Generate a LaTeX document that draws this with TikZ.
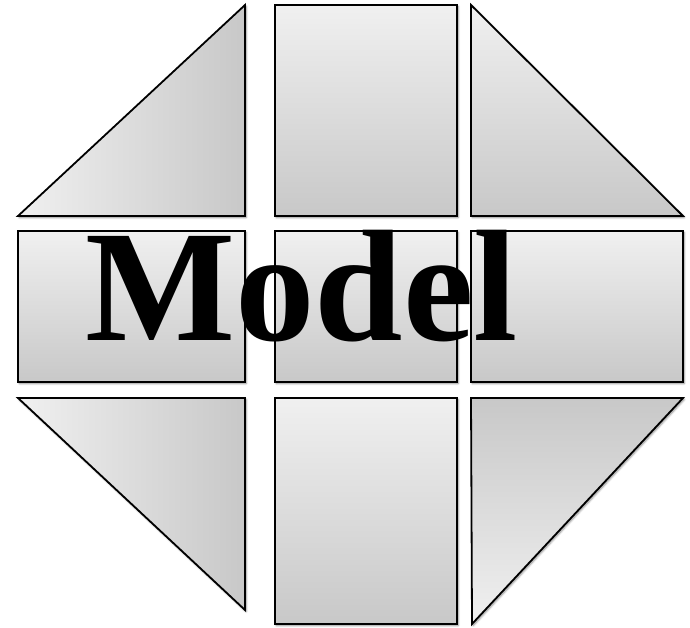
\documentclass[tikz,border=0pt]{standalone}
\usepackage{fontspec}
\setmainfont{Liberation Serif}
\usetikzlibrary{shadows.blur}
\definecolor{gl}{HTML}{F0F0F0}
\definecolor{gd}{HTML}{C8C8C8}
\tikzset{
  tile/.style={draw=black, line width=1.8pt, line join=miter,
    blur shadow={shadow xshift=1.2pt, shadow yshift=-1.5pt, shadow blur steps=6, shadow blur radius=2pt, shadow opacity=45}},
  vgrad/.style={tile, top color=gl, bottom color=gd},
  vgradup/.style={tile, top color=gd, bottom color=gl},
  hgrad/.style={tile, left color=gl, right color=gd}
}
\begin{document}
\begin{tikzpicture}[x=1pt,y=-1pt]
\useasboundingbox (0,0) rectangle (690,627);
% top row
\path[hgrad] (18,216) -- (245,216) -- (245,5) -- cycle;
\path[vgrad] (275,5) rectangle (457,216);
\path[vgrad] (471,5) -- (471,216) -- (683,216) -- cycle;
% middle row
\path[vgrad] (18,231) rectangle (245,382);
\path[vgrad] (275,231) rectangle (457,382);
\path[vgrad] (471,231) rectangle (683,382);
% bottom row
\path[hgrad] (18,398) -- (245,398) -- (245,610) -- cycle;
\path[vgrad] (275,398) rectangle (457,624);
\path[vgradup] (471,398) -- (683,398) -- (472,624) -- cycle;
% text
\node[anchor=base, inner sep=0pt, font=\fontsize{159}{159}\selectfont\bfseries] (title) at (301.5,340) {Model};
\end{tikzpicture}
\end{document}
